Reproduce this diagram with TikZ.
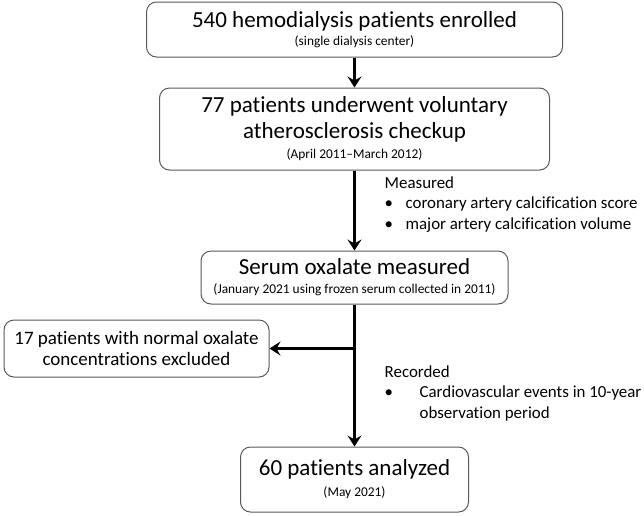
\documentclass[tikz,border=0pt]{standalone}
\usepackage{fontspec}
\setmainfont[Ligatures=NoCommon]{Carlito}
\usetikzlibrary{positioning,arrows.meta}

\newcommand{\subline}[1]{{\fontsize{13.4}{15}\selectfont #1}}

\begin{document}
\begin{tikzpicture}[
		node distance=30pt and 85pt,
		box/.style={draw=black!65,line width=1pt,rounded corners=10pt,align=center,inner sep=0pt},
		flow/.style={line width=2.6pt,-{Stealth[length=11pt,width=14pt,inset=4pt]}},
		big/.style={font=\fontsize{23}{26}\selectfont},
		note/.style={font=\fontsize{16.9}{20.5}\selectfont,inner sep=0pt,anchor=north west}
		]
		\useasboundingbox (0,0) rectangle (644pt,-515pt);
		\node[box,big,minimum width=416pt,minimum height=55pt] (enrolled) at (354.5pt,-29.5pt)
		{540 hemodialysis patients enrolled\\[-8pt]\subline{(single dialysis center)}};
		\node[box,big,minimum width=390pt,minimum height=82pt,below=30pt of enrolled] (checkup)
		{77 patients underwent voluntary\\atherosclerosis checkup\\[-6pt]\subline{(April 2011--March 2012)}};
		\node[box,big,minimum width=307pt,minimum height=53pt,below=80pt of checkup] (serum)
		{Serum oxalate measured\\[-7pt]\subline{(January 2021 using frozen serum collected in 2011)}};
		\coordinate[below=44pt of serum] (split);
		\node[box,font=\fontsize{19}{21}\selectfont,minimum width=265pt,minimum height=57pt,left=of split] (excluded)
		{17 patients with normal oxalate\\concentrations excluded};
		\node[box,big,minimum width=228pt,minimum height=65pt,below=142pt of serum] (analyzed)
		{60 patients analyzed\\[-5pt]\subline{(May 2021)}};
		\draw[flow] (enrolled) -- (checkup);
		\draw[flow] (checkup) -- (serum);
		\draw[flow] (serum) -- (analyzed);
		\draw[flow] (split) -- (excluded);
		\node[note,below right=3pt and 30pt of checkup.south] (measured)
		{
			\begin{tabular}{@{}l@{\hspace{12.5pt}}l@{}}
				\multicolumn{2}{@{}l}{Measured} \\
				\textbullet & coronary artery calcification score \\
				\textbullet & major artery calcification volume \\
			\end{tabular}
		};
		\node[note,below right=58pt and 30pt of serum.south] (recorded)
		{
			\begin{tabular}{@{}l@{\hspace{26.5pt}}l@{}}
				\multicolumn{2}{@{}l}{Recorded} \\
				\textbullet & Cardiovascular events in 10-year \\
				 & observation period \\
			\end{tabular}
		};
	\end{tikzpicture}
\end{document}
